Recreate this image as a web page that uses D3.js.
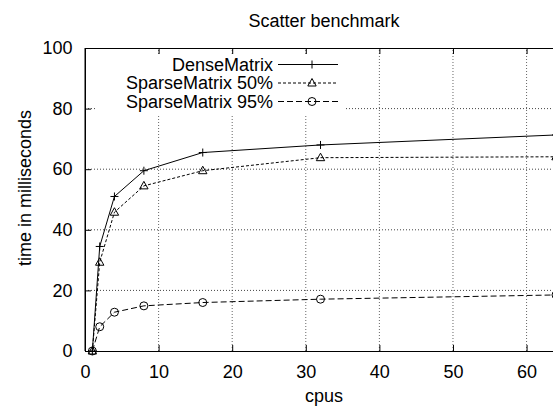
<!DOCTYPE html>
<html><head><meta charset="utf-8">
<script src="https://cdn.jsdelivr.net/npm/d3@7"></script>
<style>body{margin:0;background:#fff}svg{display:block}text{font-family:"Liberation Sans",Arial,sans-serif}</style>
</head><body><svg id="c" width="553" height="408"></svg>
<script>
const cpus = [1, 2, 4, 8, 16, 32, 64];
const dense = [0, 34.5, 51, 59.5, 65.5, 68, 71.3];
const sparse50 = [0, 29.3, 45.8, 54.5, 59.5, 63.8, 64.1];
const sparse95 = [0, 8, 12.8, 14.9, 16, 17.1, 18.5];
const seriesNames = ["DenseMatrix", "SparseMatrix 50%", "SparseMatrix 95%"];
const xTicks = [0, 10, 20, 30, 40, 50, 60];
const yTicks = [0, 20, 40, 60, 80, 100];

const svg = d3.select("#c");
const fs = 18;
const L = 85, R = 556, T = 48, B = 351;
const x = d3.scaleLinear().domain([0, 64]).range([L, R]);
const y = d3.scaleLinear().domain([0, 100]).range([B, T]);

// grid
const g = svg.append("g");
g.selectAll(".gx").data(xTicks.filter(d => d > 0)).join("line")
  .attr("x1", d => x(d)).attr("x2", d => x(d)).attr("y1", B).attr("y2", T)
  .attr("stroke", "#666").attr("stroke-dasharray", "1,2").attr("stroke-width", 1);
g.selectAll(".gy").data(yTicks.filter(d => d > 0 && d < 100)).join("line")
  .attr("x1", L).attr("x2", R).attr("y1", d => y(d)).attr("y2", d => y(d))
  .attr("stroke", "#444").attr("stroke-dasharray", "1,2").attr("stroke-width", 1);

// legend opaque box
svg.append("rect").attr("x", 95).attr("y", 56).attr("width", 250).attr("height", 58).attr("fill", "#fff");

// axes (ticks inside)
const ax = svg.append("g").attr("transform", `translate(0,${B})`)
  .call(d3.axisBottom(x).tickValues(xTicks).tickSizeInner(-6).tickSizeOuter(0).tickPadding(14));
const axTop = svg.append("g").attr("transform", `translate(0,${T})`)
  .call(d3.axisTop(x).tickValues(xTicks).tickSizeInner(-6).tickSizeOuter(0).tickFormat(""));
const ay = svg.append("g").attr("transform", `translate(${L},0)`)
  .call(d3.axisLeft(y).tickValues(yTicks).tickSizeInner(-6).tickSizeOuter(0).tickPadding(12.5));
[ax, axTop, ay].forEach(a => {
  a.select(".domain").attr("stroke", "#000");
  a.selectAll("line").attr("stroke", "#000");
  a.selectAll("text").attr("font-size", fs).attr("fill", "#000").attr("font-family", '"Liberation Sans",Arial,sans-serif');
});
ax.selectAll("text").attr("dy", "0.71em");
svg.append("line").attr("x1", L).attr("x2", L).attr("y1", T).attr("y2", B).attr("stroke", "#000");

// titles
svg.append("text").attr("x", 324).attr("y", 27).attr("text-anchor", "middle").attr("font-size", fs).text("Scatter benchmark");
svg.append("text").attr("x", 324).attr("y", 402).attr("text-anchor", "middle").attr("font-size", fs).text("cpus");
svg.append("text").attr("transform", "translate(31,188) rotate(-90)").attr("text-anchor", "middle").attr("font-size", fs).text("time in milliseconds");

const series = [
  {name: seriesNames[0], vals: dense, dash: null, marker: "plus"},
  {name: seriesNames[1], vals: sparse50, dash: "3,2", marker: "tri"},
  {name: seriesNames[2], vals: sparse95, dash: "6,3", marker: "circ"}
];
const line = d3.line().x(d => x(d[0])).y(d => y(d[1]));
function marker(sel, type) {
  if (type === "plus") {
    sel.append("path").attr("d", "M-4,0H4M0,-4V4").attr("stroke", "#000").attr("fill", "none");
  } else if (type === "tri") {
    sel.append("path").attr("d", "M0,-4.5L4.2,3L-4.2,3Z").attr("stroke", "#000").attr("fill", "none");
  } else {
    sel.append("circle").attr("r", 4).attr("stroke", "#000").attr("fill", "none");
  }
}
series.forEach(s => {
  const pts = cpus.map((c, i) => [c, s.vals[i]]);
  svg.append("path").attr("d", line(pts)).attr("fill", "none").attr("stroke", "#000").attr("stroke-width", 1)
    .attr("stroke-dasharray", s.dash);
  pts.forEach(p => {
    const m = svg.append("g").attr("transform", `translate(${x(p[0])},${y(p[1])})`);
    marker(m, s.marker);
  });
});

// legend
const legY = [64.5, 83, 101.5];
series.forEach((s, i) => {
  svg.append("text").attr("x", 273).attr("y", legY[i]).attr("dy", "0.36em").attr("text-anchor", "end").attr("font-size", fs).text(s.name);
  svg.append("line").attr("x1", 278).attr("x2", 338).attr("y1", legY[i]).attr("y2", legY[i]).attr("stroke", "#000").attr("stroke-dasharray", s.dash);
  const m = svg.append("g").attr("transform", `translate(312,${legY[i]})`);
  marker(m, s.marker);
});
</script></body></html>
